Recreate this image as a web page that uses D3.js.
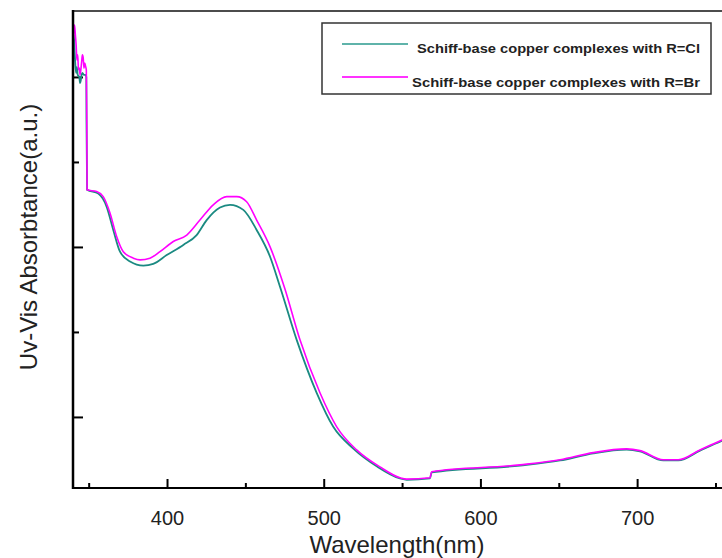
<!DOCTYPE html>
<html>
<head>
<meta charset="utf-8">
<script src="https://cdn.jsdelivr.net/npm/d3@7"></script>
<style>
  html, body { margin: 0; padding: 0; background: #fff; }
  svg { display: block; }
  text { font-family: "Liberation Sans", Arial, sans-serif; }
</style>
</head>
<body>
<svg id="chart" width="722" height="558"></svg>
<script>
// ---- data ----
const seriesNames = ["Schiff-base copper complexes with R=Cl", "Schiff-base copper complexes with R=Br"];
const seriesColors = ["#1b8a82", "#ff00ff"];
const legendColors = ["#5fb3aa", "#ff33ff"];

const wlCl = [340, 340.5, 341, 341.5, 342, 342.5, 343, 344, 344.5, 345, 345.5, 346, 347, 348, 348.5, 348.6, 349,
  356.1, 361.5, 365.7, 370.0, 376.4, 384.9, 391.2, 399.8, 410.4, 418.9, 425.3, 433.8, 440.2, 448.7, 457.2, 465.7,
  472.1, 482.8, 495.5, 506.1, 518.9, 533.8, 548.7, 553, 567.8, 568.9, 625.3, 650.8, 672, 693.3, 701.8, 716.7, 726.3, 740.1, 754.2, 762];
const absCl = [1.521, 1.624, 1.579, 1.535, 1.512, 1.529, 1.506, 1.500, 1.482, 1.491, 1.506, 1.512, 1.506, 1.506, 1.500, 1.374, 1.168,
  1.157, 1.118, 1.050, 0.986, 0.957, 0.945, 0.950, 0.976, 1.006, 1.035, 1.079, 1.116, 1.124, 1.109, 1.050, 0.972,
  0.883, 0.726, 0.571, 0.471, 0.407, 0.355, 0.319, 0.315, 0.319, 0.337, 0.357, 0.372, 0.393, 0.404, 0.399, 0.372, 0.372, 0.401, 0.430, 0.445];

const wlBr = [340, 340.5, 341, 341.5, 342, 342.5, 343, 343.5, 344, 344.5, 345, 345.5, 346, 346.5, 347, 347.5, 348, 348.5, 348.8, 349,
  355.1, 359.3, 363.6, 367.9, 372.1, 378.5, 382.8, 389.1, 395.5, 404.0, 412.6, 421.0, 429.5, 438.1, 444.5, 450.8, 457.2, 465.7,
  475.0, 484.9, 497.6, 508.3, 521.0, 535.9, 548.7, 553, 567.8, 568.9, 625.3, 650.8, 672, 693.3, 701.8, 716.7, 726.3, 740.1, 754.2, 762];
const absBr = [1.579, 1.638, 1.653, 1.624, 1.594, 1.550, 1.565, 1.521, 1.526, 1.506, 1.521, 1.544, 1.565, 1.556, 1.526, 1.541, 1.532, 1.521, 1.374, 1.168,
  1.163, 1.148, 1.100, 1.030, 0.986, 0.967, 0.962, 0.967, 0.986, 1.016, 1.035, 1.079, 1.124, 1.148, 1.148, 1.133, 1.079, 1.001,
  0.880, 0.726, 0.571, 0.471, 0.403, 0.353, 0.321, 0.317, 0.321, 0.339, 0.359, 0.374, 0.395, 0.406, 0.401, 0.374, 0.374, 0.403, 0.432, 0.447];

const xMajorTicks = [400, 500, 600, 700];
const xMinorTicks = [350, 450, 550, 650, 750];
const yMajorTicks = [0.5, 1.0, 1.5];
const yMinorTicks = [0.75, 1.25];
const xTitle = "Wavelength(nm)";
const yTitle = "Uv-Vis Absorbtance(a.u.)";

// ---- layout ----
const svg = d3.select("#chart");
const L = 73, T = 11, B = 488, Rvis = 722;
const x = d3.scaleLinear().domain([340, 763]).range([L, L + 423 * 1.567]);
const y = d3.scaleLinear().domain([0.291, 1.694]).range([B, T]);

svg.append("defs").append("clipPath").attr("id", "clip")
  .append("rect").attr("x", L).attr("y", 0).attr("width", Rvis - L).attr("height", B);

// axes
const gx = svg.append("g").attr("transform", `translate(0,${B})`)
  .call(d3.axisBottom(x).tickValues(xMajorTicks).tickSizeInner(-9).tickSizeOuter(0).tickPadding(23).tickFormat(d3.format("d")));
const gxm = svg.append("g").attr("transform", `translate(0,${B})`)
  .call(d3.axisBottom(x).tickValues(xMinorTicks).tickSizeInner(-5).tickSizeOuter(0).tickFormat(""));
const gy = svg.append("g").attr("transform", `translate(${L},0)`)
  .call(d3.axisLeft(y).tickValues(yMajorTicks).tickSizeInner(-10).tickSizeOuter(0).tickFormat(""));
const gym = svg.append("g").attr("transform", `translate(${L},0)`)
  .call(d3.axisLeft(y).tickValues(yMinorTicks).tickSizeInner(-6).tickSizeOuter(0).tickFormat(""));
[gx, gxm, gy, gym].forEach(g => {
  g.select(".domain").remove();
  g.selectAll(".tick line").attr("stroke", "#000").attr("stroke-width", 2);
});
gx.selectAll(".tick text").attr("font-size", 20).attr("fill", "#222")
  .attr("font-family", "'Liberation Sans', Arial, sans-serif");

// frame
svg.append("line").attr("x1", L).attr("x2", Rvis).attr("y1", T).attr("y2", T).attr("stroke", "#111").attr("stroke-width", 1.6);
svg.append("line").attr("x1", L).attr("x2", Rvis).attr("y1", B).attr("y2", B).attr("stroke", "#000").attr("stroke-width", 2);

// lines
const line = d3.line().curve(d3.curveMonotoneX).x(d => x(d[0])).y(d => y(d[1]));
const plot = svg.append("g").attr("clip-path", "url(#clip)");
plot.append("path").datum(d3.zip(wlCl, absCl)).attr("d", line)
  .attr("fill", "none").attr("stroke", seriesColors[0]).attr("stroke-width", 1.8);
plot.append("path").datum(d3.zip(wlBr, absBr)).attr("d", line)
  .attr("fill", "none").attr("stroke", seriesColors[1]).attr("stroke-width", 1.6);

svg.append("line").attr("x1", L).attr("x2", L).attr("y1", T - 1).attr("y2", B + 1).attr("stroke", "#000").attr("stroke-width", 2.5);

// titles
svg.append("text").attr("x", 397).attr("y", 553).attr("text-anchor", "middle")
  .attr("font-size", 24).attr("fill", "#222").text(xTitle);
svg.append("text").attr("transform", "translate(37,237) rotate(-90)").attr("text-anchor", "middle")
  .attr("font-size", 24).attr("fill", "#222").text(yTitle);

// legend
const lg = svg.append("g");
lg.append("rect").attr("x", 322).attr("y", 23).attr("width", 389).attr("height", 71)
  .attr("fill", "#fff").attr("stroke", "#333").attr("stroke-width", 1.5);
const legY = [44, 77], legTextY = [53, 87], legTextX = [417, 412];
seriesNames.forEach((name, i) => {
  lg.append("line").attr("x1", 342).attr("x2", 408).attr("y1", legY[i]).attr("y2", legY[i])
    .attr("stroke", legendColors[i]).attr("stroke-width", 2);
  lg.append("text").attr("x", legTextX[i]).attr("y", legTextY[i]).attr("font-size", 13.5)
    .attr("font-weight", "bold").attr("fill", "#222")
    .attr("textLength", 700 - legTextX[i]).attr("lengthAdjust", "spacingAndGlyphs")
    .text(name);
});
</script>
</body>
</html>
